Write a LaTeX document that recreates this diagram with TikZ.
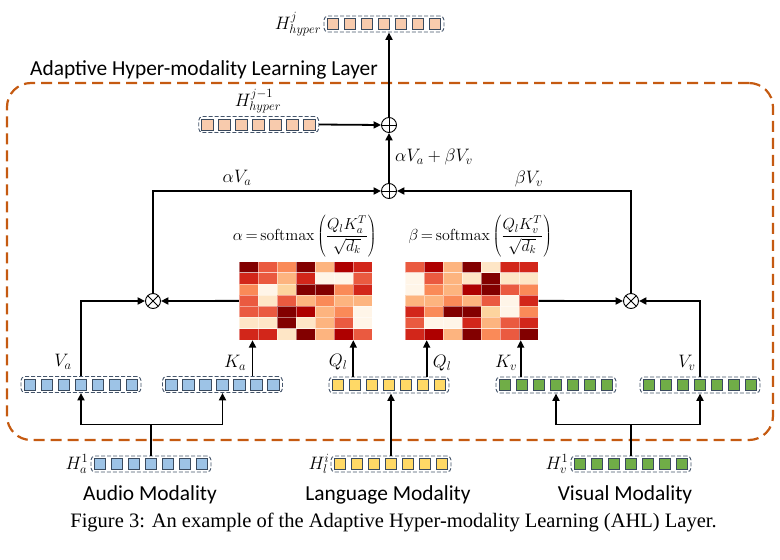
\RequirePackage{fix-cm}
\documentclass[tikz,border=0pt]{standalone}
\usepackage[no-math]{fontspec}
\setmainfont{Liberation Serif}
\newfontfamily\labelsans{Carlito}
\usetikzlibrary{arrows.meta,calc}

\definecolor{layerorange}{HTML}{C55A11}
\definecolor{rowslate}{HTML}{44546A}
\definecolor{tokedge}{HTML}{3A4A5E}
\definecolor{tokblue}{HTML}{9DC3E6}
\definecolor{tokyellow}{HTML}{FFD966}
\definecolor{tokgreen}{HTML}{70AD47}
\definecolor{tokpeach}{HTML}{F8CBAD}
% OrRd heat levels
\definecolor{o1}{HTML}{FFF5E8}
\definecolor{o2}{HTML}{FEE6C6}
\definecolor{o3}{HTML}{FDD49E}
\definecolor{o4}{HTML}{FDB47F}
\definecolor{o5}{HTML}{FA8A58}
\definecolor{o6}{HTML}{EA5A40}
\definecolor{o7}{HTML}{D2261A}
\definecolor{o8}{HTML}{AE0000}
\definecolor{o9}{HTML}{820000}

% one row of seven token squares inside a dashed frame
\newcommand{\tokenrow}[3]{%
  \node[rowbox] (#1) at (#2) {};
  \foreach \k [count=\ti] in {-3,...,3}
    \node[tok, fill=#3] (#1t\ti) at ([xshift=\k*17pt]#1.center) {};
}
% tall parentheses around the scaled score
\newcommand{\bigparen}[1]{\left(\vrule height 25pt depth 17pt width 0pt #1\right)}

\begin{document}
\begin{tikzpicture}[x=1pt, y=-1pt,
  line/.style={line width=1.8pt, draw=black},
  arr/.style={line, -{Triangle[length=7.5pt,width=7pt]}},
  rowbox/.style={draw=rowslate, dash pattern=on 4pt off 2pt, line width=0.9pt,
    rounded corners=4pt, minimum width=120pt, minimum height=16pt, inner sep=0pt},
  tok/.style={draw=tokedge, line width=1pt, minimum width=11.5pt, minimum height=11pt, inner sep=0pt},
  layerbox/.style={draw=layerorange, line width=2.2pt, dash pattern=on 11pt off 6pt,
    rounded corners=24pt, inner sep=0pt},
  opbase/.style={circle, draw, line width=0.9pt, fill=white, minimum size=15pt, inner sep=0pt},
  oplus/.style={opbase, path picture={\draw[line width=0.9pt]
    (path picture bounding box.north) -- (path picture bounding box.south)
    (path picture bounding box.west) -- (path picture bounding box.east);}},
  otimes/.style={opbase, path picture={\draw[line width=0.9pt]
    (path picture bounding box.north west) -- (path picture bounding box.south east)
    (path picture bounding box.north east) -- (path picture bounding box.south west);}},
  mlabel/.style={font=\fontsize{18}{20}\selectfont, inner sep=0pt},
  formula/.style={font=\fontsize{16}{19}\selectfont, inner sep=0pt},
  sanslabel/.style={font=\labelsans\fontsize{21.4}{25}\selectfont, inner sep=0pt, anchor=base},
  cell/.style={draw=white, draw opacity=0.45, line width=0.4pt},
  heat/.style={minimum width=133pt, minimum height=78.3pt, inner sep=0pt}
]
\useasboundingbox (0,0) rectangle (780,560);

% layer frame and its title
\node[layerbox, minimum width=766pt, minimum height=357pt] (layer) at (390,261.5) {};
\node[sanslabel] (title) at (204,75.5) {Adaptive Hyper-modality Learning Layer};

% token rows
\tokenrow{hj}{384,24}{tokpeach}
\tokenrow{hjm}{258.7,124.5}{tokpeach}
\tokenrow{va}{81,384.5}{tokblue}
\tokenrow{ka}{222.5,384.5}{tokblue}
\tokenrow{ql}{389,385}{tokyellow}
\tokenrow{kv}{556,385}{tokgreen}
\tokenrow{vv}{700,385}{tokgreen}
\tokenrow{ha}{151,464}{tokblue}
\tokenrow{hl}{391,464}{tokyellow}
\tokenrow{hv}{631,464}{tokgreen}

% row labels
\node[mlabel, anchor=east] (hjlab) at (321.5,24) {$H^{j}_{hyper}$};
\node[mlabel] (hjmlab) at (258,101) {$H^{j-1}_{hyper}$};
\node[mlabel, anchor=east] (halab) at (88.5,464) {$H^{1}_{a}$};
\node[mlabel, anchor=east] (hllab) at (329.5,464) {$H^{i}_{l}$};
\node[mlabel, anchor=east] (hvlab) at (568.5,464) {$H^{1}_{v}$};

% attention maps
\node[heat] (hmA) at (305.5,300.85) {};
\node[heat] (hmB) at (472,300.85) {};
\foreach \hmrow [count=\ri] in {{9,6,5,9,4,8,7},{7,6,4,7,1,1,6},{5,1,3,9,9,5,7},
    {6,2,6,4,5,4,4},{6,6,9,8,4,5,1},{2,2,9,2,4,6,1},{7,7,2,9,4,8,6}} {
  \foreach \v [count=\ci] in \hmrow {
    \filldraw[cell, fill=o\v] ($(hmA.north west)+(\ci*19-19,\ri*11.186-11.186)$)
      rectangle ++(19,11.186);
  }
}
\foreach \hmrow [count=\ri] in {{6,8,4,9,2,7,7},{1,6,4,2,9,2,2},{1,5,4,8,9,6,5},
    {4,4,5,4,6,1,7},{7,5,9,9,3,1,5},{6,1,1,7,4,6,7},{7,8,4,9,5,6,9}} {
  \foreach \v [count=\ci] in \hmrow {
    \filldraw[cell, fill=o\v] ($(hmB.north west)+(\ci*18.94-18.94,\ri*11.186-11.186)$)
      rectangle ++(18.94,11.186);
  }
}

% attention formulas
\node[formula] (alpha) at (304.7,236.5)
  {$\alpha\,{=}\,\mathrm{softmax}\bigparen{{\displaystyle\frac{Q_lK_a^T}{\sqrt{d_k}}}}$};
\node[formula] (beta) at (480.3,236.5)
  {$\beta\,{=}\,\mathrm{softmax}\bigparen{{\displaystyle\frac{Q_lK_v^T}{\sqrt{d_k}}}}$};

% operators
\node[oplus] (op1) at (389,125) {};
\node[oplus] (op2) at (389,191) {};
\node[otimes] (otA) at (153,301) {};
\node[otimes] (otB) at (631,301) {};

% modality inputs into the projections
\path (ha.north) ++(0,-31) coordinate (ba);
\path (hv.north) ++(0,-31) coordinate (bv);
\draw[line] (ha.north) -- (ba);
\draw[arr] (ba) -| (va.south);
\draw[arr] (ba) -| (ka.south);
\draw[arr] (hl.north) -- (hl.north |- ql.south);
\draw[line] (hv.north) -- (bv);
\draw[arr] (bv) -| (kv.south);
\draw[arr] (bv) -| (vv.south);

% keys and queries into the attention maps
\draw[arr] ([xshift=30pt]ka.north) -- ([xshift=30pt]ka.north |- hmA.south);
\draw[arr] ([xshift=-35.7pt]ql.north) -- ([xshift=-35.7pt]ql.north |- hmA.south);
\draw[arr] ([xshift=37.7pt]ql.north) -- ([xshift=37.7pt]ql.north |- hmB.south);
\draw[arr] ([xshift=-35.3pt]kv.north) -- ([xshift=-35.3pt]kv.north |- hmB.south);

% values weighted by the maps
\draw[arr] (va.north) |- (otA.west);
\draw[arr] (hmA.west) -- (otA.east);
\draw[arr] (vv.north) |- (otB.east);
\draw[arr] (hmB.east) -- (otB.west);
\draw[arr] (otA.north) |- (op2.west);
\draw[arr] (otB.north) |- (op2.east);

% fusion with the previous hyper-modality state
\draw[arr] (op2.north) -- (op1.south);
\draw[arr] (hjm.east) -- (op1.west);
\draw[arr] (op1.north) -- (op1.north |- hj.south);

% connector labels
\node[mlabel] (lva) at (63,362) {$V_a$};
\node[mlabel] (lka) at (235,363) {$K_a$};
\node[mlabel] (lql) at (338,362) {$Q_l$};
\node[mlabel] (lqr) at (442,363) {$Q_l$};
\node[mlabel] (lkv) at (506,363) {$K_v$};
\node[mlabel] (lvv) at (687,363) {$V_v$};
\node[mlabel] (lav) at (237,178) {$\alpha V_a$};
\node[mlabel] (lbv) at (529,179) {$\beta V_v$};
\node[mlabel, anchor=west] (lsum) at (395,157) {$\alpha V_a+\beta V_v$};

% modality names and caption
\node[sanslabel] (audio) at (150,500.5) {Audio Modality};
\node[sanslabel] (lang) at (388,500.5) {Language Modality};
\node[sanslabel] (visual) at (625,500.5) {Visual Modality};
\node[font=\fontsize{20.5}{24}\selectfont, inner sep=0pt, anchor=base] (caption) at (393.5,527)
  {Figure 3: An example of the Adaptive Hyper-modality Learning (AHL) Layer.};
\end{tikzpicture}
\end{document}
